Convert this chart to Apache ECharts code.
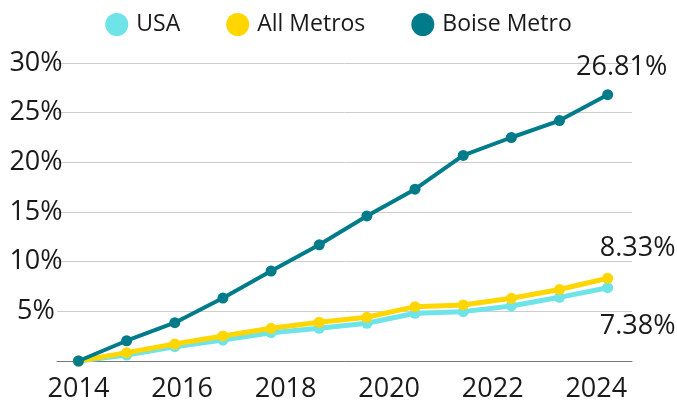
<!DOCTYPE html>
<html>
<head>
<meta charset="utf-8">
<script src="https://cdn.jsdelivr.net/npm/echarts@6/dist/echarts.min.js"></script>
<style>
  html, body { margin: 0; padding: 0; background: #fff; }
  #chart { width: 677px; height: 404px; }
</style>
</head>
<body>
<div id="chart"></div>
<script>
// Point positions along the year axis
const years = [2014.00, 2014.93, 2015.86, 2016.79, 2017.72, 2018.65, 2019.57, 2020.50, 2021.43, 2022.36, 2023.29, 2024.22];
const yearTicks = [2014, 2016, 2018, 2020, 2022, 2024];
const usa = [0, 0.60, 1.44, 2.10, 2.85, 3.29, 3.80, 4.80, 4.97, 5.54, 6.41, 7.38];
const allMetros = [0, 0.84, 1.71, 2.52, 3.29, 3.90, 4.40, 5.47, 5.64, 6.31, 7.20, 8.33];
const boise = [0, 2.04, 3.86, 6.34, 9.06, 11.70, 14.60, 17.30, 20.70, 22.50, 24.20, 26.81];
const seriesNames = ['USA', 'All Metros', 'Boise Metro'];
const colors = ['#6fe4e8', '#ffd600', '#007b8a'];

const FONT = 'Open Sans';
const TXT = '#1a1a1a';

function build(values, endLabel) {
  return values.map((v, i) => {
    const item = { value: [years[i], v] };
    if (i === values.length - 1) {
      item.label = Object.assign({
        show: true,
        formatter: v.toFixed(2) + '%',
        fontFamily: FONT,
        fontSize: 27,
        color: TXT
      }, endLabel);
    }
    return item;
  });
}

const chart = echarts.init(document.getElementById('chart'), null, { renderer: 'canvas' });
chart.setOption({
  animation: false,
  backgroundColor: '#fff',
  color: colors,
  legend: {
    top: 8,
    left: 'center',
    icon: 'circle',
    itemWidth: 23,
    itemHeight: 23,
    itemGap: 46,
    textStyle: { fontFamily: FONT, fontSize: 23, color: TXT, padding: [0, 0, 0, 3] },
    data: seriesNames
  },
  grid: { left: 57, right: 45, top: 63, bottom: 43, containLabel: false },
  xAxis: {
    type: 'value',
    min: 2013.585,
    max: 2024.69,
    axisLine: { show: true, onZero: false, lineStyle: { color: '#777', width: 1 } },
    axisTick: { show: false },
    splitLine: { show: false },
    axisLabel: {
      customValues: yearTicks,
      fontFamily: FONT,
      fontSize: 27,
      color: TXT,
      margin: 15,
      formatter: v => String(Math.round(v))
    }
  },
  yAxis: {
    type: 'value',
    min: 0,
    max: 30,
    interval: 5,
    axisLine: { show: false },
    axisTick: { show: false },
    splitLine: { show: true, lineStyle: { color: '#cccccc', width: 1 } },
    axisLabel: {
      fontFamily: FONT,
      fontSize: 27,
      color: TXT,
      align: 'center',
      margin: 21,
      padding: [5, 0, 0, 0],
      formatter: v => v === 0 ? '' : v + '%'
    }
  },
  series: [
    {
      name: seriesNames[0], type: 'line', data: build(usa, { position: 'bottom', distance: 5, offset: [30, 15] }),
      symbol: 'circle', symbolSize: 11, lineStyle: { width: 5 }, z: 2
    },
    {
      name: seriesNames[1], type: 'line', data: build(allMetros, { position: 'top', distance: 5, offset: [30, -6] }),
      symbol: 'circle', symbolSize: 11, lineStyle: { width: 5 }, z: 3
    },
    {
      name: seriesNames[2], type: 'line', data: build(boise, { position: 'top', distance: 5, offset: [14, -3] }),
      symbol: 'circle', symbolSize: 11, lineStyle: { width: 4 }, z: 4
    }
  ]
});
</script>
</body>
</html>
